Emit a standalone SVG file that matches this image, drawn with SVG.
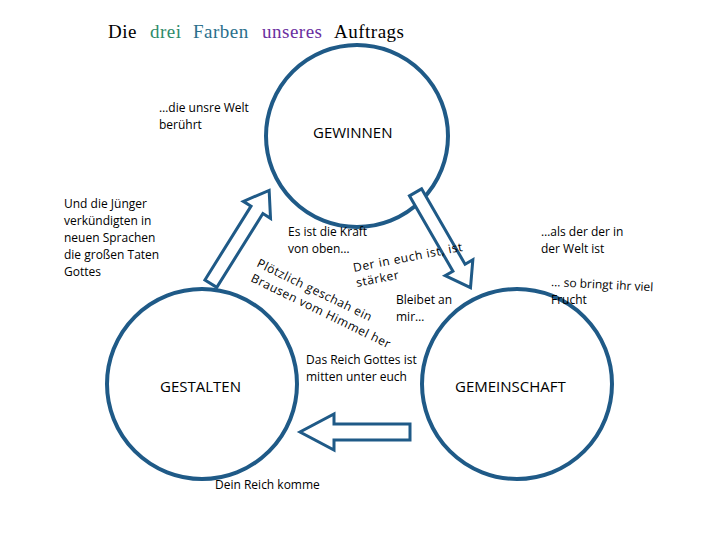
<svg xmlns="http://www.w3.org/2000/svg" width="720" height="540" viewBox="0 0 720 540">
<style>
.c{fill:none;stroke:#1f5a87;stroke-width:4}
.a{fill:#fff;stroke:#1f5a87;stroke-width:3;stroke-linejoin:miter}
text{font-family:"Open Sans","DejaVu Sans",sans-serif;font-size:12px;fill:#000}
.big{font-size:15px}
.t{font-family:"Liberation Serif",serif;font-size:19px;letter-spacing:0.5px}
</style>
<rect width="720" height="540" fill="#fff"/>
<text class="t" x="108" y="38">Die <tspan x="150" fill="#2e8b6a">drei</tspan><tspan x="193" fill="#2b6f8c">Farben</tspan><tspan x="262" fill="#6a2ea0">unseres</tspan><tspan x="334">Auftrags</tspan></text>
<g id="gewinnen"><circle class="c" cx="357" cy="136" r="91"/><text class="big" x="313" y="138">GEWINNEN</text></g>
<g id="gestalten"><circle class="c" cx="202" cy="384" r="95"/><text class="big" x="160" y="392">GESTALTEN</text></g>
<g id="gemeinschaft"><circle class="c" cx="517" cy="384" r="95"/><text class="big" x="455" y="392">GEMEINSCHAFT</text></g>
<g id="connectors">
<path class="a" transform="translate(240,237) rotate(-58)" d="M-55,-7 L32,-7 L32,-16 L55,0 L32,16 L32,7 L-55,7 Z"/>
<path class="a" transform="translate(443,240) rotate(60)" d="M-55,-7 L32,-7 L32,-16 L55,0 L32,16 L32,7 L-55,7 Z"/>
<path class="a" d="M410,424 L334,424 L334,414 L300,432 L334,450 L334,440 L410,440 Z"/>
</g>
<g id="labels">
<text x="159" y="112">…die unsre Welt</text><text x="159" y="129">berührt</text>
<text x="64" y="208">Und die Jünger</text><text x="64" y="225">verkündigten in</text><text x="64" y="242">neuen Sprachen</text><text x="64" y="259">die großen Taten</text><text x="64" y="276">Gottes</text>
<text x="288" y="236">Es ist die Kraft</text><text x="288" y="253">von oben…</text>
<text transform="translate(354,272) rotate(-11)" letter-spacing="0.6">Der in euch ist, ist</text>
<text transform="translate(357,287) rotate(-11)" letter-spacing="0.6">stärker</text>
<text transform="translate(256,266) rotate(26)" letter-spacing="0.5">Plötzlich geschah ein</text>
<text transform="translate(250,281) rotate(26)" letter-spacing="0.5">Brausen vom Himmel her</text>
<text x="396" y="304">Bleibet an</text><text x="396" y="321">mir…</text>
<text x="541" y="236">…als der der in</text><text x="541" y="253">der Welt ist</text>
<text transform="translate(551,286) rotate(3)">… so bringt ihr viel</text><text x="551" y="304">Frucht</text>
<text x="306" y="364">Das Reich Gottes ist</text><text x="306" y="381">mitten unter euch</text>
<text x="215" y="489">Dein Reich komme</text>
</g>
</svg>
